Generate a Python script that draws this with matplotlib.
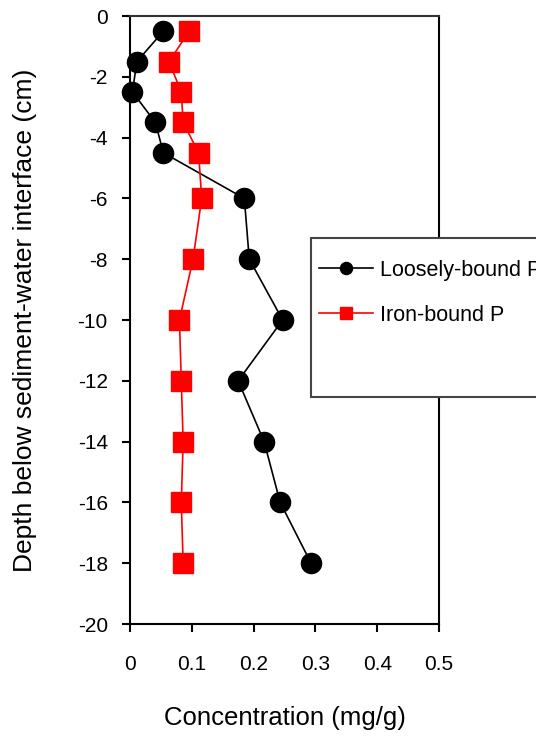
import matplotlib.pyplot as plt
from matplotlib.patches import Rectangle

plt.rcParams['font.family'] = ['Liberation Sans', 'DejaVu Sans']
plt.rcParams['font.size'] = 15
plt.rcParams['axes.unicode_minus'] = False

# Sediment depth profile (cm below interface)
depth = [-0.5, -1.5, -2.5, -3.5, -4.5, -6, -8, -10, -12, -14, -16, -18]
loose_p = [0.054, 0.011, 0.004, 0.041, 0.054, 0.185, 0.193, 0.247, 0.175, 0.217, 0.243, 0.293]
iron_p = [0.096, 0.063, 0.083, 0.086, 0.111, 0.116, 0.102, 0.080, 0.083, 0.086, 0.083, 0.086]

fig = plt.figure(figsize=(5.36, 7.42), dpi=100)
ax = fig.add_axes([130 / 536, 1 - 624 / 742, 309 / 536, 608 / 742])

ax.plot(loose_p, depth, color='black', lw=1.2, marker='o', ms=14.5,
        mec='black', mfc='black', label='Loosely-bound P', clip_on=False, zorder=3)
ax.plot(iron_p, depth, color='red', lw=1.2, marker='s', ms=14,
        mec='red', mfc='red', label='Iron-bound P', clip_on=False, zorder=3)

ax.set_xlim(0, 0.5)
ax.set_ylim(-20, 0)
ax.set_xticks([0, 0.1, 0.2, 0.3, 0.4, 0.5])
ax.set_xticklabels(['0', '0.1', '0.2', '0.3', '0.4', '0.5'])
ax.set_yticks(range(-20, 1, 2))
ax.tick_params(direction='out', length=6, width=1.5, pad=10)
ax.tick_params(axis='x', pad=16)
for s in ax.spines.values():
    s.set_linewidth(1.5)
ax.spines['top'].set_color('#333333')

ax.set_xlabel('Concentration (mg/g)', fontsize=18.5)
ax.set_ylabel('Depth below sediment-water interface (cm)', fontsize=19)
ax.xaxis.set_label_coords(0.5, (624 - 706) / 608)
ax.yaxis.set_label_coords((37 - 130) / 309, 0.5)

# legend box sits over the right edge of the axes
fig.patches.append(Rectangle((311 / 536, 1 - 397 / 742), 0.6, 159 / 742,
                             transform=fig.transFigure, fill=True, fc='white',
                             ec='#444444', lw=1.5, zorder=5))
leg = fig.legend(loc='upper left', bbox_to_anchor=(319 / 536, 1 - 260 / 742),
                 frameon=False, fontsize=15.5, handlelength=2.5, handletextpad=0.35,
                 labelspacing=1.1, markerscale=0.6, borderaxespad=0,
                 borderpad=0)
leg.set_zorder(6)

fig.savefig('out.png', dpi=100)
